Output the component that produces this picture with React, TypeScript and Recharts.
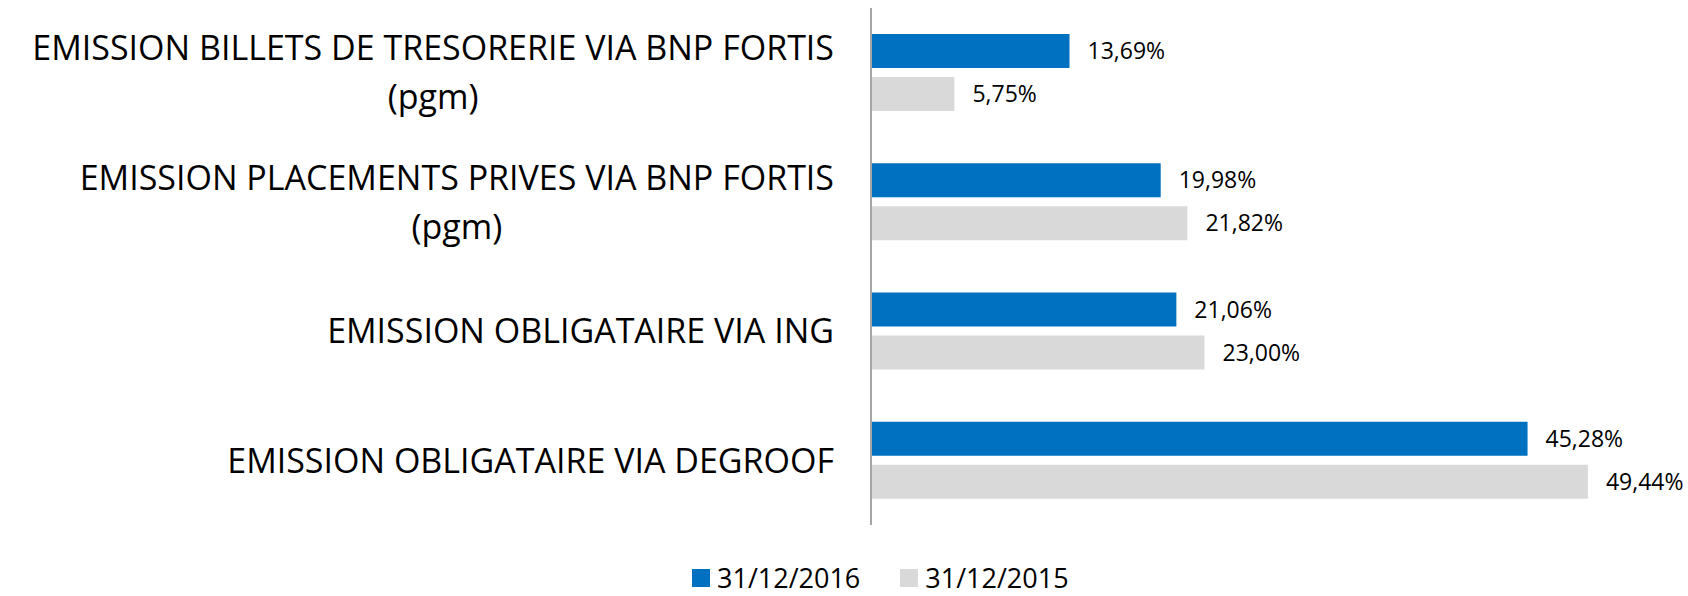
import React from "react";
import { BarChart, Bar, XAxis, YAxis, LabelList, Legend } from "recharts";

const categories = [
  "EMISSION BILLETS DE TRESORERIE VIA BNP FORTIS\n(pgm)",
  "EMISSION PLACEMENTS PRIVES VIA BNP FORTIS\n(pgm)",
  "EMISSION OBLIGATAIRE VIA ING",
  "EMISSION OBLIGATAIRE VIA DEGROOF",
];
const values2016 = [13.69, 19.98, 21.06, 45.28];
const values2015 = [5.75, 21.82, 23.0, 49.44];
const seriesNames = ["31/12/2016", "31/12/2015"];
const seriesColors = ["#0070C0", "#D9D9D9"];

const FONT = "'Open Sans', sans-serif";

const data = categories.map((name, i) => ({
  name,
  s2016: values2016[i],
  s2015: values2015[i],
}));

const fmt = (v: unknown) => `${Number(v).toFixed(2).replace(".", ",")}%`;

let ctx: CanvasRenderingContext2D | null = null;
function textWidth(s: string, size: number) {
  if (!ctx) ctx = document.createElement("canvas").getContext("2d");
  if (!ctx) return s.length * size * 0.6;
  ctx.font = `${size}px 'Open Sans'`;
  return ctx.measureText(s).width;
}

// multi-line category label, lines centred on each other, block right-aligned
function CategoryTick(props: any) {
  const { x, y, payload } = props;
  const size = 34;
  const lineH = 49;
  const lines = String(payload.value).split("\n");
  const w = Math.max(...lines.map((l) => textWidth(l, size)));
  const cx = x - w / 2;
  const first = -((lines.length - 1) * lineH) / 2;
  return (
    <text
      x={cx}
      y={y}
      textAnchor="middle"
      fontFamily={FONT}
      fontSize={size}
      fill="#000"
    >
      {lines.map((l, i) => (
        <tspan key={i} x={cx} y={y + first + i * lineH} dy="0.36em">
          {l}
        </tspan>
      ))}
    </text>
  );
}

function LegendContent() {
  return (
    <div
      style={{
        height: 71,
        boxSizing: "border-box",
        paddingTop: 34,
        paddingLeft: 692,
        display: "flex",
        alignItems: "flex-start",
        fontFamily: FONT,
        fontSize: 27,
        color: "#000",
        lineHeight: "37px",
      }}
    >
      {seriesNames.map((n, i) => (
        <div
          key={n}
          style={{
            display: "flex",
            alignItems: "center",
            height: 37,
            marginRight: 40,
          }}
        >
          <span
            style={{
              width: 18,
              height: 18,
              background: seriesColors[i],
              display: "inline-block",
              marginRight: 7,
            }}
          />
          <span>{n}</span>
        </div>
      ))}
    </div>
  );
}

export default function App() {
  return (
    <div style={{ position: "absolute", left: 0, top: 0, background: "#fff" }}>
      <BarChart
        width={1688}
        height={596}
        data={data}
        layout="vertical"
        margin={{ top: 8, right: 92, bottom: 0, left: 0 }}
        barGap={9}
        barSize={34}
      >
        <XAxis type="number" domain={[0, 50]} hide />
        <YAxis
          type="category"
          dataKey="name"
          width={871}
          tickLine={false}
          tickSize={0}
          tickMargin={37}
          axisLine={{ stroke: "#A6A6A6", strokeWidth: 2 }}
          tick={<CategoryTick />}
          interval={0}
        />
        <Legend
          verticalAlign="bottom"
          content={<LegendContent />}
          wrapperStyle={{ left: 0, width: 1688 }}
        />
        <Bar
          dataKey="s2016"
          name={seriesNames[0]}
          fill={seriesColors[0]}
          isAnimationActive={false}
        >
          <LabelList
            dataKey="s2016"
            position="right"
            offset={18}
            formatter={fmt}
            fill="#000"
            fontFamily={FONT}
            fontSize={23}
          />
        </Bar>
        <Bar
          dataKey="s2015"
          name={seriesNames[1]}
          fill={seriesColors[1]}
          isAnimationActive={false}
        >
          <LabelList
            dataKey="s2015"
            position="right"
            offset={18}
            formatter={fmt}
            fill="#000"
            fontFamily={FONT}
            fontSize={23}
          />
        </Bar>
      </BarChart>
    </div>
  );
}
